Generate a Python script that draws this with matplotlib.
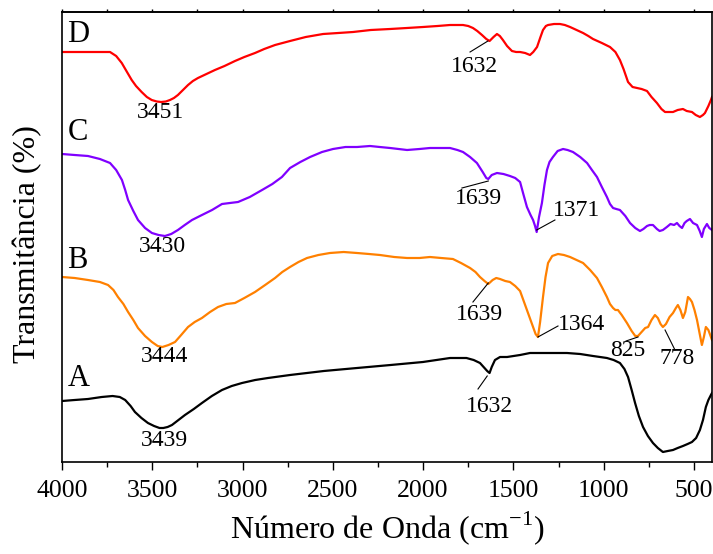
import numpy as np
import matplotlib
matplotlib.use("Agg")
import matplotlib.pyplot as plt
from matplotlib.ticker import MultipleLocator

plt.rcParams['font.family'] = ['Liberation Serif', 'DejaVu Serif']
plt.rcParams['mathtext.fontset'] = 'custom'
plt.rcParams['mathtext.rm'] = 'Liberation Serif'

# espectros FTIR (numero de onda em cm-1, transmitancia em unidades arbitrarias)
wn_a = [4000, 3930, 3856, 3780, 3720, 3680, 3650, 3620, 3596, 3560, 3524, 3490,
        3460, 3439, 3415, 3391, 3355, 3319, 3270, 3225, 3170, 3114, 3060, 3003,
        2930, 2859, 2737, 2550, 2366, 2180, 2001, 1851, 1760, 1720, 1685, 1660,
        1645, 1632, 1620, 1602, 1574, 1535, 1463, 1408, 1353, 1280, 1203, 1130,
        1059, 1020, 982, 945, 910, 885, 865, 845, 826, 805, 782, 755, 727, 700,
        672, 645, 616, 590, 561, 535, 511, 488, 467, 450, 434, 420, 406, 400]
t_a = [61, 62, 63, 65, 66, 65, 62, 56, 50, 44, 39, 36,
       34, 34, 35, 37, 42, 47, 53, 59, 66, 72, 76, 79,
       82, 84, 87, 91, 94, 97, 100, 104, 104, 102, 99, 94,
       91, 89, 95, 102, 105, 105, 107, 109, 109, 109, 109, 108,
       106, 105, 104, 102, 99, 93, 85, 72, 59, 46, 35, 26, 19, 14,
       10, 11, 12, 14, 16, 18, 20, 24, 32, 42, 55, 62, 67, 69]

wn_b = [4000, 3930, 3856, 3790, 3745, 3715, 3690, 3660, 3634, 3605, 3579, 3540,
        3502, 3470, 3444, 3410, 3374, 3340, 3302, 3265, 3225, 3180, 3136, 3090,
        3042, 2990, 2931, 2875, 2820, 2780, 2737, 2690, 2643, 2580, 2516, 2440,
        2366, 2300, 2239, 2160, 2089, 2020, 1962, 1900, 1835, 1790, 1740, 1710,
        1685, 1660, 1639, 1615, 1595, 1574, 1545, 1519, 1490, 1463, 1445, 1425,
        1405, 1391, 1377, 1364, 1352, 1336, 1322, 1308, 1285, 1253, 1220, 1186,
        1150, 1114, 1075, 1037, 1010, 982, 965, 948, 935, 921, 900, 871, 845,
        825, 810, 790, 770, 754, 735, 716, 700, 685, 672, 655, 635, 616, 600,
        589, 575, 561, 548, 533, 522, 511, 497, 483, 468, 456, 445, 434, 420,
        406, 400]
t_b = [185, 184, 182, 180, 177, 172, 165, 158, 150, 142, 134, 126,
       120, 116, 115, 117, 120, 127, 135, 140, 144, 150, 155, 158,
       159, 164, 170, 177, 184, 190, 195, 200, 204, 207, 209, 210,
       209, 208, 207, 205, 204, 204, 205, 204, 203, 199, 194, 190,
       185, 181, 178, 182, 184, 183, 181, 180, 176, 171, 162, 152,
       142, 135, 128, 125, 140, 165, 185, 199, 206, 208, 207, 205,
       202, 199, 192, 184, 175, 165, 158, 154, 152, 152, 147, 139, 131,
       126, 126, 130, 134, 135, 142, 147, 144, 138, 135, 138, 145, 149, 154,
       157, 152, 144, 150, 165, 163, 160, 152, 142, 128, 117, 125, 135, 132,
       125, 122]

wn_c = [4000, 3930, 3856, 3790, 3734, 3700, 3668, 3650, 3634, 3605, 3579, 3540,
        3502, 3465, 3430, 3395, 3358, 3320, 3280, 3225, 3169, 3114, 3070, 3025,
        2960, 2892, 2835, 2782, 2737, 2680, 2626, 2560, 2499, 2430, 2366, 2294,
        2240, 2183, 2089, 2020, 1962, 1900, 1851, 1810, 1779, 1740, 1702, 1670,
        1650, 1639, 1620, 1591, 1555, 1519, 1490, 1463, 1445, 1425, 1405, 1391,
        1380, 1371, 1358, 1342, 1328, 1314, 1300, 1281, 1255, 1225, 1200, 1170,
        1130, 1092, 1065, 1037, 1010, 982, 965, 948, 930, 910, 880, 854, 825,
        799, 780, 760, 745, 727, 705, 690, 672, 650, 630, 610, 594, 580, 566,
        552, 540, 522, 505, 483, 468, 456, 445, 428, 415, 400]
t_c = [308, 307, 306, 303, 299, 292, 282, 272, 262, 251, 242, 234,
       229, 227, 226, 228, 232, 237, 242, 247, 252, 258, 259, 260,
       265, 272, 278, 285, 294, 300, 305, 310, 313, 315, 315, 316,
       315, 314, 312, 313, 314, 314, 314, 312, 310, 305, 299, 290,
       284, 283, 287, 289, 288, 286, 284, 280, 268, 255, 247, 242,
       236, 230, 245, 259, 277, 292, 300, 305, 311, 313, 312, 310,
       305, 299, 292, 285, 275, 265, 258, 254, 253, 252, 246, 239, 234,
       231, 233, 236, 237, 237, 233, 231, 232, 235, 238, 237, 239, 236, 234,
       239, 241, 243, 239, 237, 231, 225, 233, 238, 234, 232]

wn_d = [4000, 3930, 3856, 3790, 3734, 3700, 3669, 3640, 3614, 3590, 3559, 3530,
        3503, 3475, 3451, 3425, 3402, 3380, 3358, 3330, 3302, 3275, 3247, 3200,
        3153, 3100, 3042, 2990, 2931, 2880, 2820, 2737, 2650, 2554, 2470, 2388,
        2290, 2183, 2090, 2001, 1920, 1851, 1800, 1779, 1750, 1724, 1700, 1674,
        1650, 1632, 1610, 1591, 1575, 1558, 1535, 1508, 1485, 1463, 1435, 1408,
        1390, 1369, 1350, 1336, 1320, 1308, 1275, 1242, 1215, 1186, 1150, 1114,
        1085, 1059, 1010, 965, 935, 910, 890, 865, 840, 815, 790, 760, 735,
        705, 680, 660, 640, 616, 590, 561, 540, 511, 490, 467, 450, 439, 420,
        406, 400]
t_d = [410, 410, 410, 410, 410, 406, 399, 390, 382, 376, 370, 365,
       362, 360.5, 360, 360.5, 362, 364, 367, 372, 377, 381, 384, 388,
       392, 396, 401, 405, 409, 413, 417, 421, 425, 428, 429, 430,
       432, 433, 434, 435, 436, 437, 437, 437, 436, 434, 431, 427,
       423, 421, 425, 428, 426, 422, 416, 411, 410, 410, 409, 407,
       410, 415, 425, 432, 436, 437, 438, 438, 437, 435, 432, 429,
       426, 423, 419, 415, 410, 402, 393, 380, 375, 374, 373, 371, 365,
       359, 353, 350, 350, 350, 352, 353, 351, 350, 347, 345, 347, 349, 356,
       362, 365]

series = [
    ('A', wn_a, t_a, 'black'),
    ('B', wn_b, t_b, '#FF8000'),
    ('C', wn_c, t_c, '#8000FF'),
    ('D', wn_d, t_d, '#FF0000'),
]

# letra de cada amostra: (numero de onda, transmitancia)
letter_pos = {'A': (3970, 84), 'B': (3970, 202), 'C': (3970, 329), 'D': (3970, 427)}

# rotulos dos picos: texto, posicao do texto, linha guia (inicio, fim) ou None
peaks = [
    ('3439', (3435, 21), None),
    ('1632', (1630, 55), ((1696, 73), (1645, 86))),
    ('3444', (3430, 105), None),
    ('1639', (1690, 148), ((1724, 160), (1639, 179))),
    ('1364', (1120, 138), ((1364, 125), (1253, 136))),
    ('825', (865, 111), ((876, 121), (810, 125))),
    ('778', (594, 103), ((660, 132), (605, 112))),
    ('3430', (3446, 215), None),
    ('1639', (1696, 263), ((1785, 274), (1639, 281))),
    ('1371', (1148, 251), ((1371, 232), (1270, 242))),
    ('3451', (3452, 349), None),
    ('1632', (1718, 396), ((1740, 410), (1641, 421))),
]

fig = plt.figure(figsize=(7.13, 5.54), dpi=100)
ax = fig.add_axes([62 / 713, 1 - 462 / 554, 650 / 713, 450 / 554])

for name, wn, t, color in series:
    ax.plot(wn, t, color=color, lw=1.6)
    lx, ly = letter_pos[name]
    ax.text(lx, ly, name, fontsize=22, ha='left', va='center')

for label, (tx, ty), guide in peaks:
    ax.text(tx, ty, label, fontsize=17, ha='center', va='center')
    if guide:
        (x0, y0), (x1, y1) = guide
        ax.plot([x0, x1], [y0, y1], color='black', lw=0.8)

ax.set_xlim(4000, 400)
ax.set_ylim(0, 450)
ax.xaxis.set_major_locator(MultipleLocator(500))
ax.xaxis.set_minor_locator(MultipleLocator(250))
ax.set_yticks([])
ax.tick_params(axis='x', which='major', direction='out', length=6, width=1.0,
               labelsize=18.5, pad=7)
ax.tick_params(axis='x', which='minor', direction='out', length=3.5, width=1.0)

# marcas curtas no eixo superior
top = ax.secondary_xaxis('top')
top.xaxis.set_major_locator(MultipleLocator(250))
top.tick_params(axis='x', direction='out', length=2, width=1.0, labeltop=False)

for sp in ax.spines.values():
    sp.set_linewidth(1.2)
top.spines['top'].set_linewidth(1.2)

ax.set_xlabel('Número de Onda (cm$^{\\mathregular{-1}}$)', fontsize=23, labelpad=5)
ax.set_ylabel('Transmitância (%)', fontsize=23)
ax.yaxis.set_label_coords(-0.03, 0.485)

fig.savefig('out.png', dpi=100)
